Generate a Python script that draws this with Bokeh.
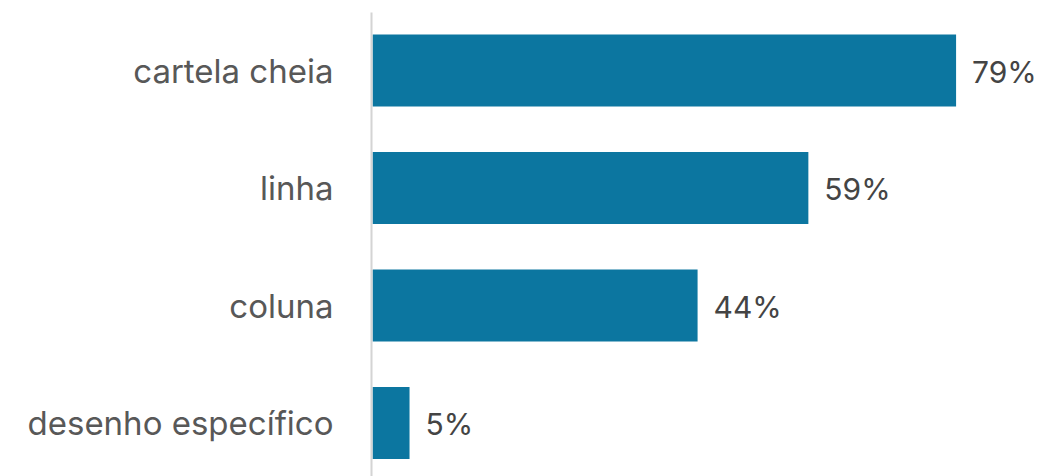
from bokeh.plotting import figure
from bokeh.models import Range1d, ColumnDataSource, FixedTicker
from bokeh.core.properties import value
from bokeh.embed import file_html
from bokeh.resources import INLINE

categories = ["cartela cheia", "linha", "coluna", "desenho específico"]
values = [79, 59, 44, 5]
labels = ["79%", "59%", "44%", "5%"]

positions = list(range(len(categories)))
source = ColumnDataSource(dict(y=positions, v=values, lab=labels))

p = figure(width=1040, height=476, output_backend="svg", toolbar_location=None,
           x_range=Range1d(-0.15, 90.43), y_range=Range1d(3.455, -0.494),
           x_axis_location=None, min_border_left=371, min_border_right=0,
           min_border_top=12, min_border_bottom=0)
p.outline_line_color = None
p.xgrid.visible = False
p.ygrid.visible = False

p.hbar(y="y", right="v", left=0, height=0.613, source=source,
       fill_color="#0c76a0", line_color=None)

p.text(x="v", y="y", text="lab", source=source, x_offset=16, y_offset=1,
       text_font=value("Inter"), text_font_size="30px", text_color="#444444",
       text_baseline="middle", text_align="left")

ax = p.yaxis[0]
ax.ticker = FixedTicker(ticks=positions)
ax.major_label_overrides = {i: c for i, c in enumerate(categories)}
ax.major_label_text_font = "Inter"
ax.major_label_text_font_size = "33px"
ax.major_label_text_color = "#585858"
ax.major_label_standoff = 32
ax.major_tick_line_color = None
ax.minor_tick_line_color = None
ax.axis_line_color = "#d4d4d4"
ax.axis_line_width = 2

open("out.html", "w").write(file_html(p, INLINE))
